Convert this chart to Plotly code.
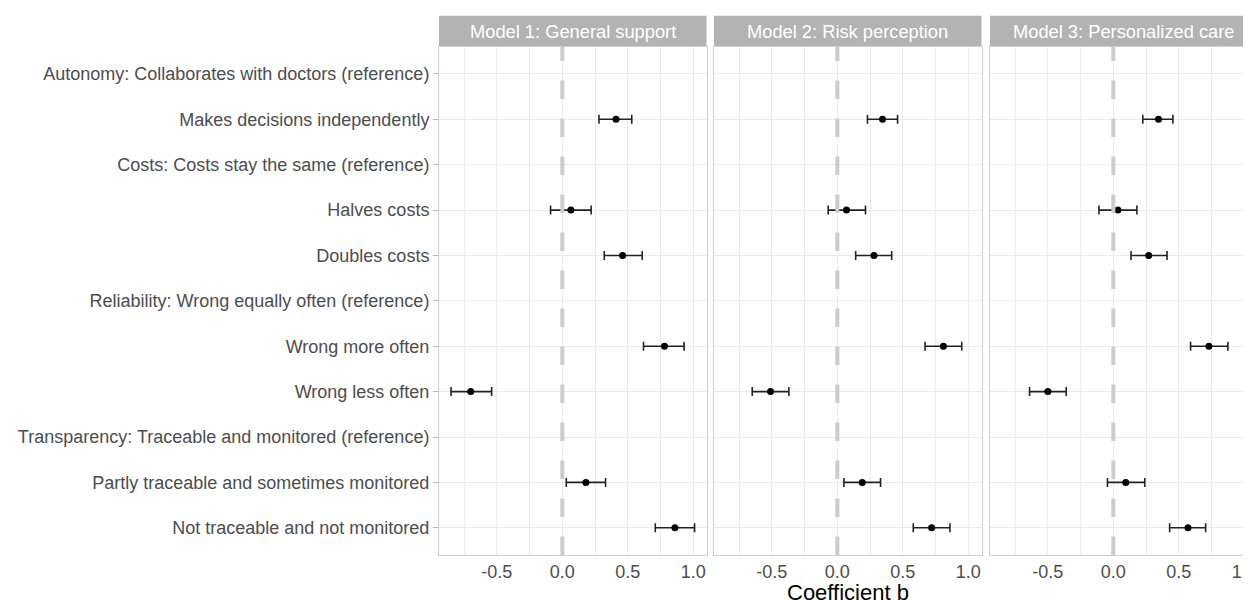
import plotly.graph_objects as go

# ---------------- data ----------------
categories = [
    "Autonomy: Collaborates with doctors (reference)",
    "Makes decisions independently",
    "Costs: Costs stay the same (reference)",
    "Halves costs",
    "Doubles costs",
    "Reliability: Wrong equally often (reference)",
    "Wrong more often",
    "Wrong less often",
    "Transparency: Traceable and monitored (reference)",
    "Partly traceable and sometimes monitored",
    "Not traceable and not monitored",
]

panel_titles = ["Model 1: General support", "Model 2: Risk perception", "Model 3: Personalized care"]

model1_est = [None, 0.41, None, 0.065, 0.46, None, 0.78, -0.70, None, 0.18, 0.86]
model1_lo = [None, 0.28, None, -0.09, 0.32, None, 0.62, -0.85, None, 0.03, 0.71]
model1_hi = [None, 0.53, None, 0.22, 0.61, None, 0.93, -0.54, None, 0.33, 1.01]

model2_est = [None, 0.345, None, 0.07, 0.28, None, 0.81, -0.51, None, 0.19, 0.72]
model2_lo = [None, 0.23, None, -0.07, 0.14, None, 0.67, -0.65, None, 0.05, 0.58]
model2_hi = [None, 0.46, None, 0.215, 0.415, None, 0.95, -0.37, None, 0.33, 0.86]

model3_est = [None, 0.345, None, 0.035, 0.27, None, 0.73, -0.50, None, 0.095, 0.57]
model3_lo = [None, 0.225, None, -0.11, 0.135, None, 0.59, -0.64, None, -0.045, 0.43]
model3_hi = [None, 0.455, None, 0.18, 0.41, None, 0.875, -0.36, None, 0.24, 0.705]

x_ticks = [-0.5, 0.0, 0.5, 1.0]
x_tick_text = ["-0.5", "0.0", "0.5", "1.0"]
x_minor = [-0.75, -0.25, 0.25, 0.75]
x_title = "Coefficient b"

# ---------------- layout geometry (screen pixels) ----------------
W, H = 1251, 600
OFF = 8  # page body margin offset
FONT = "Liberation Sans, Arial, Helvetica, sans-serif"
panels_px = [(439.0, 706.5), (714.0, 981.5), (990.0, 1257.5)]
panel_top, panel_bottom = 46.7, 555.0
strip_top = 15.7
x_lo, x_hi = -0.942, 1.101


def fx(px):
    return (px - OFF) / W


def fy(py):
    return (H - (py - OFF)) / H


models = [
    (model1_est, model1_lo, model1_hi),
    (model2_est, model2_lo, model2_hi),
    (model3_est, model3_lo, model3_hi),
]

fig = go.Figure()
shapes = []
annotations = []

for i, (est, lo, hi) in enumerate(models):
    xs, ys, ep, em = [], [], [], []
    for c, e, l, h in zip(categories, est, lo, hi):
        if e is None:
            continue
        xs.append(e)
        ys.append(c)
        ep.append(h - e)
        em.append(e - l)
    sfx = "" if i == 0 else str(i + 1)
    fig.add_trace(go.Scatter(
        x=xs, y=ys, mode="markers",
        xaxis="x" + sfx, yaxis="y" + sfx,
        marker=dict(color="black", size=7),
        error_x=dict(type="data", symmetric=False, array=ep, arrayminus=em,
                     color="#222222", thickness=1.6, width=4.5),
        showlegend=False, hoverinfo="skip",
    ))

    left, right = panels_px[i]
    xa = dict(
        domain=[fx(left), min(1.0, fx(right))], range=[x_lo, x_hi], anchor="y" + sfx,
        tickvals=x_ticks, ticktext=x_tick_text, ticks="", showgrid=True,
        gridcolor="#ebebeb", gridwidth=1, zeroline=False,
        minor=dict(tickvals=x_minor, showgrid=True, gridcolor="#ebebeb", gridwidth=1),
        showline=True, mirror=True, linecolor="#cfcfcf", linewidth=1,
        tickfont=dict(family=FONT, size=18, color="#4d4d4d"),
        ticklabelstandoff=0,
    )
    ya = dict(
        domain=[fy(panel_bottom), fy(panel_top)], anchor="x" + sfx,
        type="category", categoryorder="array", categoryarray=categories,
        range=[len(categories) - 0.4, -0.6], autorange=False,
        showgrid=True, gridcolor="#ebebeb", gridwidth=1, zeroline=False,
        showline=True, mirror=True, linecolor="#cfcfcf", linewidth=1,
    )
    if i == 0:
        ya.update(showticklabels=True, ticks="outside", ticklen=5, tickcolor="#b8b8b8",
                  tickwidth=1, tickfont=dict(family=FONT, size=18, color="#4d4d4d"))
    else:
        ya.update(showticklabels=False, ticks="")
    fig.update_layout(**{"xaxis" + sfx: xa, "yaxis" + sfx: ya})

    # dashed zero line
    shapes.append(dict(type="line", xref="x" + sfx, yref="y" + sfx + " domain",
                       x0=0, x1=0, y0=0, y1=1,
                       line=dict(color="#cccccc", width=4, dash="18.5px,19.5px"),
                       layer="above"))

    # strip
    shapes.append(dict(type="rect", xref="paper", yref="paper",
                       x0=fx(left), x1=fx(right),
                       y0=fy(panel_top), y1=fy(strip_top),
                       fillcolor="#b3b3b3", line=dict(width=0), layer="below"))
    annotations.append(dict(text=panel_titles[i], xref="paper", yref="paper",
                            x=fx((left + right) / 2), y=fy((strip_top + panel_top) / 2),
                            xanchor="center", yanchor="middle", showarrow=False,
                            font=dict(family=FONT, size=18.3, color="white")))

annotations.append(dict(text=x_title, xref="paper", yref="paper",
                        x=fx((panels_px[0][0] + panels_px[2][1]) / 2), y=fy(592),
                        xanchor="center", yanchor="middle", showarrow=False,
                        font=dict(family=FONT, size=22, color="black")))

fig.update_layout(
    width=W, height=H,
    margin=dict(l=0, r=0, t=0, b=0),
    paper_bgcolor="white", plot_bgcolor="white",
    shapes=shapes, annotations=annotations,
    showlegend=False,
)

fig.write_html("out.html")
